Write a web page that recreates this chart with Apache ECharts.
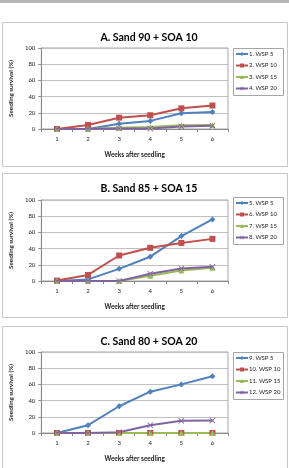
<!DOCTYPE html>
<html>
<head>
<meta charset="utf-8">
<style>
  html, body { margin: 0; padding: 0; background: #fff; }
  #chart { width: 289px; height: 468px; }
</style>
<script src="https://cdn.jsdelivr.net/npm/echarts@6/dist/echarts.min.js"></script>
</head>
<body>
<div id="chart"></div>
<script>
// 横轴：播种后周数
const weeks = ['1', '2', '3', '4', '5', '6'];
const panelTitles = ['A. Sand 90 + SOA 10', 'B. Sand 85 + SOA 15', 'C. Sand 80 + SOA 20'];

// A 图
const namesA = ['1. WSP 5', '2. WSP 10', '3. WSP 15', '4. WSP 20'];
const a1 = [0, 0, 6.5, 10, 19.5, 21];
const a2 = [0, 5, 14, 17, 25.5, 29];
const a3 = [0, 0, 1.5, 2.5, 4.5, 5];
const a4 = [0, 0, 0.5, 0.5, 3, 4];

// B 图
const namesB = ['5. WSP 5', '6. WSP 10', '7. WSP 15', '8. WSP 20'];
const b5 = [0, 2, 15, 30, 55.5, 76];
const b6 = [0.5, 7.5, 31.5, 41, 47, 52];
const b7 = [0, 0, 0, 6.5, 13, 16.5];
const b8 = [0, 0, 0, 9, 15.5, 17.5];

// C 图
const namesC = ['9. WSP 5', '10. WSP 10', '11. WSP 15', '12. WSP 20'];
const c9 = [0, 9.6, 33, 51, 60, 70];
const c10 = [0, 0, 0, 0, 0, 0];
const c11 = [0, 0, 0, 0, 0, 0];
const c12 = [0, 0, 1, 9.6, 15, 15.4];

const panelNames = [namesA, namesB, namesC];
const panelData = [[a1, a2, a3, a4], [b5, b6, b7, b8], [c9, c10, c11, c12]];

const colors = ['#4F81BD', '#C0504D', '#9BBB59', '#8064A2'];
const symbols = ['diamond', 'rect', 'triangle',
  'path://M0,1L1,0L5,4L9,0L10,1L6,5L10,9L9,10L5,6L1,10L0,9L4,5Z'];
const symbolSizes = [6, 6, 6, 6];

const font = 'Lato, "Open Sans", sans-serif';
const boxTops = [22, 173, 326];
const gridTops = [48, 200, 352];
const gridHeights = [81, 81, 81];
const legendTops = [48, 197, 352];

let myChart = echarts.init(document.getElementById('chart'));

let grids = [], xAxes = [], yAxes = [], titles = [], legends = [], series = [];
let graphics = [
  // 顶部上一张图的残边
  { type: 'rect', shape: { x: 0, y: 0, width: 289, height: 3 }, style: { fill: '#b5b5b5' } }
];

for (let p = 0; p < 3; p++) {
  // 外框
  graphics.push({
    type: 'rect', z: -10,
    shape: { x: 2.5, y: boxTops[p] + 0.5, width: 285, height: 144 },
    style: { fill: '#fff', stroke: '#c9c9c9', lineWidth: 1 }
  });
  // 图例框
  graphics.push({
    type: 'rect', z: -5,
    shape: { x: 233.5, y: legendTops[p] + 0.5, width: 50, height: 47 },
    style: { fill: 'none', stroke: '#a6a6a6', lineWidth: 1 }
  });
  titles.push({
    text: panelTitles[p],
    left: 144, top: boxTops[p] + 5, textAlign: 'center',
    textStyle: { fontFamily: font, fontSize: 10.5, fontWeight: 'bold', color: '#000' }
  });
  grids.push({
    left: 38, top: gridTops[p], width: 190, height: gridHeights[p],
    show: true, borderColor: '#a6a6a6', borderWidth: 1
  });
  xAxes.push({
    type: 'category', gridIndex: p, data: weeks, boundaryGap: true,
    name: 'Weeks after seedling', nameLocation: 'middle', nameGap: 22,
    nameTextStyle: { fontFamily: font, fontSize: 6.5, fontWeight: 'bold', color: '#222' },
    axisLine: { lineStyle: { color: '#888' } },
    axisTick: { show: true, length: 3, lineStyle: { color: '#888' } },
    axisLabel: { fontFamily: font, fontSize: 6, color: '#222', margin: 7 }
  });
  yAxes.push({
    type: 'value', gridIndex: p, min: 0, max: 100, interval: 20,
    name: 'Seedling survival (%)', nameLocation: 'middle', nameGap: 23, nameRotate: 90,
    nameTextStyle: { fontFamily: font, fontSize: 6.3, fontWeight: 'bold', color: '#222' },
    axisLine: { show: true, lineStyle: { color: '#888' } },
    axisTick: { show: true, length: 3, lineStyle: { color: '#888' } },
    splitLine: { lineStyle: { color: '#bfbfbf', width: 1 } },
    axisLabel: { fontFamily: font, fontSize: 6, color: '#222', margin: 6 }
  });
  legends.push({
    data: panelNames[p],
    orient: 'vertical', left: 233, top: legendTops[p],
    padding: [3, 2, 3, 2],
    itemGap: 5.5, itemWidth: 12, itemHeight: 5,
    textStyle: { fontFamily: font, fontSize: 6, color: '#222', padding: [0, 0, 0, -4] }
  });
  for (let s = 0; s < 4; s++) {
    series.push({
      name: panelNames[p][s], type: 'line',
      xAxisIndex: p, yAxisIndex: p,
      data: panelData[p][s],
      symbol: symbols[s], symbolSize: symbolSizes[s],
      lineStyle: { width: 2, color: colors[s] },
      itemStyle: { color: colors[s] },
      animation: false
    });
  }
}

let option = {
  backgroundColor: '#fff',
  animation: false,
  title: titles,
  legend: legends,
  grid: grids,
  xAxis: xAxes,
  yAxis: yAxes,
  series: series,
  graphic: graphics
};

myChart.setOption(option);
</script>
</body>
</html>
